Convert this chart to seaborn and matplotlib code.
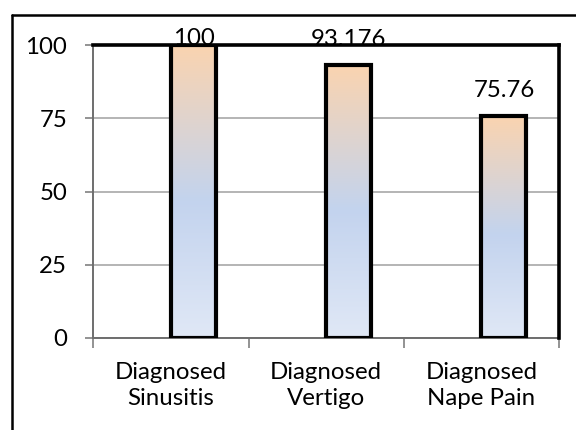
import numpy as np
import pandas as pd
import matplotlib
matplotlib.use("Agg")
import matplotlib.pyplot as plt
from matplotlib.colors import LinearSegmentedColormap
from matplotlib.lines import Line2D
import seaborn as sns

# Data
categories = ["Diagnosed\nSinusitis", "Diagnosed\nVertigo", "Diagnosed\nNape Pain"]
percent = [100, 93.176, 75.76]
value_labels = ["100", "93.176", "75.76"]
series_levels = ["Baseline", "Percent"]   # first series is empty, second holds the values
y_ticks = [0, 25, 50, 75, 100]

sns.set_theme(style="white")
plt.rcParams["font.family"] = ["Lato", "DejaVu Sans"]

FS = 17.3

df = pd.DataFrame({"category": categories, "percent": percent,
                   "series": [series_levels[1]] * len(categories)})

fig = plt.figure(figsize=(5.76, 4.30), dpi=100)
ax = fig.add_axes([0.1623, 0.2140, 0.9705 - 0.1623, 0.8953 - 0.2140])

sns.barplot(data=df, x="category", y="percent", hue="series",
            hue_order=series_levels, order=categories, width=0.58,
            dodge=True, legend=False, ax=ax,
            edgecolor="black", linewidth=3.0, facecolor="none")

# Vertical gradient fill inside each bar
grad_cmap = LinearSegmentedColormap.from_list(
    "bar_grad", [(0.0, "#E0E8F6"), (0.47, "#C3D3EE"), (1.0, "#FAD4B0")])
grad = np.linspace(0, 1, 256).reshape(-1, 1)
for bar in ax.patches:
    h = bar.get_height()
    if not np.isfinite(h) or h <= 0:
        continue
    x0 = bar.get_x()
    w = bar.get_width()
    bar.set_facecolor("none")
    bar.set_zorder(3)
    im = ax.imshow(grad, cmap=grad_cmap, origin="lower", aspect="auto",
                   extent=[x0, x0 + w, 0, h], zorder=2, interpolation="bilinear")
    im.set_clip_path(bar)

ax.set_xlim(-0.5, len(categories) - 0.5)
ax.set_ylim(0, 100)

# Value labels above the bars, held inside the plot frame
for bar, lab in zip([p for p in ax.patches if p.get_height() > 0], value_labels):
    cx = bar.get_x() + bar.get_width() / 2
    ypos = min(bar.get_height() + 6.5, 100)
    ax.text(cx, ypos, lab, ha="center", va="baseline", fontsize=FS,
            color="black", zorder=5, clip_on=False)

# Axes styling
ax.set_yticks(y_ticks)
ax.set_yticklabels([str(t) for t in y_ticks])
ax.yaxis.grid(True, color="#a0a0a0", linewidth=1.1)
ax.set_axisbelow(True)
ax.set_xlabel("")
ax.set_ylabel("")
ax.set_xticks(range(len(categories)))
ax.set_xticklabels(categories, linespacing=1.32)
ax.set_xticks(np.arange(-0.5, len(categories)), minor=True)
ax.tick_params(axis="x", which="major", length=0, pad=17, labelsize=FS, colors="black")
ax.tick_params(axis="x", which="minor", length=7, width=1.2, color="#808080", direction="out")
ax.tick_params(axis="y", which="major", length=6, width=1.2, color="#808080",
               direction="out", pad=13, labelsize=FS, labelcolor="black")
ax.tick_params(axis="y", left=True)
ax.tick_params(axis="x", which="minor", bottom=True)

for side in ["left", "bottom"]:
    ax.spines[side].set_color("#6e6e6e")
    ax.spines[side].set_linewidth(1.4)
for side in ["top", "right"]:
    ax.spines[side].set_color("black")
    ax.spines[side].set_linewidth(2.6)
    ax.spines[side].set_zorder(6)

# Outer chart frame
W, H = 576, 430
fx, fy = 11.5 / W, 1 - 14.5 / H
fig.add_artist(Line2D([fx, 1.0], [fy, fy], transform=fig.transFigure,
                      color="black", linewidth=1.8))
fig.add_artist(Line2D([fx, fx], [fy, 0.0], transform=fig.transFigure,
                      color="black", linewidth=1.8))

fig.savefig("out.png", dpi=100)
